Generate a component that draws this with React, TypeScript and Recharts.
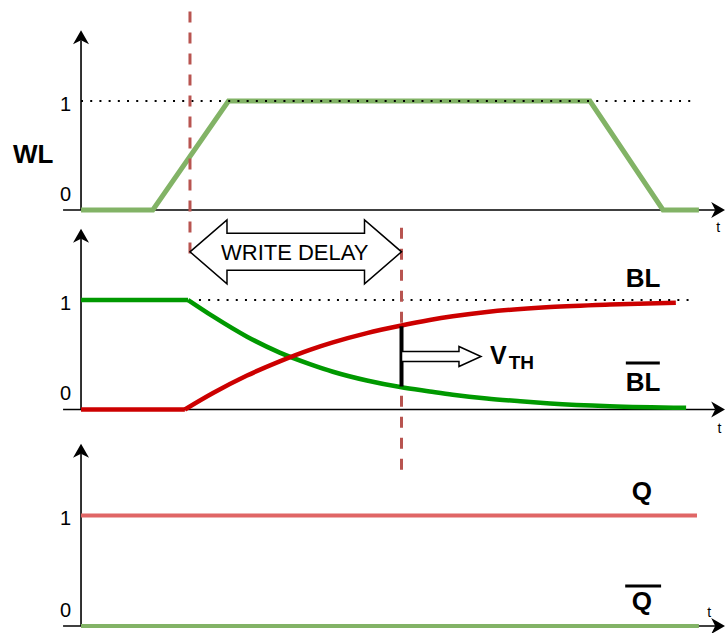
import { ComposedChart, Line, XAxis, YAxis, ReferenceLine, ReferenceDot } from "recharts";

const WIDTH = 725;
const HEIGHT = 633;
const FONT = "'Liberation Sans', Arial, Helvetica, sans-serif";

// time runs 0..100 from the vertical axes to the arrow tips
const T_DOMAIN: [number, number] = [-12.64, 100.47];

// WL
const WL_T = [0, 11.2, 23.0, 79.4, 90.8, 96.4];
const WL_LEVEL = [0, 0, 1, 1, 0, 0];

// BL (charging); index 1 is where the curve leaves the flat part
const BL_T = [0, 16.2, 20.6, 25.9, 31.0, 35.7, 39.3, 44.6, 49.8, 54.4, 58.0, 63.3, 73.2, 82.5, 92.8];
const BL_LEVEL = [0, 0, 0.15, 0.31, 0.44, 0.545, 0.613, 0.698, 0.765, 0.817, 0.851, 0.891, 0.936, 0.959, 0.975];

// BL bar (discharging)
const BLB_T = [0, 16.7, 20.6, 25.9, 31.0, 35.7, 39.3, 44.6, 49.8, 54.4, 58.0, 63.3, 68.5, 73.2, 82.5, 94.4];
const BLB_LEVEL = [1, 1, 0.85, 0.665, 0.52, 0.415, 0.345, 0.265, 0.205, 0.165, 0.135, 0.1, 0.075, 0.055, 0.03, 0.015];

// Q / Q bar
const Q_T = [0, 96.1];
const Q_LEVEL = [1, 1];
const QB_T = [0, 96.4];
const QB_LEVEL = [0, 0];

// marker times
const DELAY_START_T = 17.0;
const DELAY_END_T = 50.0;
const VTH_TIP_T = 62.4;

// three stacked lanes in one chart (y is in chart units, 0 at bottom)
const LANE_ZERO = [423, 223.5, 7];
const LANE_SPAN = [109, 109.5, 110.5];
const lane = (k: number, level: number) => LANE_ZERO[k] + level * LANE_SPAN[k];

const rows = (ts: number[], levels: number[], k: number) =>
  ts.map((t, i) => ({ t, y: lane(k, levels[i]) }));

const pts = (p: number[][]) => p.map((q) => q.join(",")).join(" ");

function AxisArrow(props: any) {
  const { x1, y1, x2, y2 } = props;
  const dx = x2 - x1;
  const dy = y2 - y1;
  const len = Math.hypot(dx, dy) || 1;
  const ux = dx / len;
  const uy = dy / len;
  const px = -uy;
  const py = ux;
  const L = 14;
  const W = 8;
  const N = 4;
  const bx = x2 - ux * L;
  const by = y2 - uy * L;
  const nx = x2 - ux * (L - N);
  const ny = y2 - uy * (L - N);
  return (
    <g>
      <line x1={x1} y1={y1} x2={nx} y2={ny} stroke="#000" strokeWidth={1.6} />
      <polygon
        points={pts([
          [x2, y2],
          [bx + px * W, by + py * W],
          [nx, ny],
          [bx - px * W, by - py * W],
        ])}
        fill="#000"
      />
    </g>
  );
}

function DelayArrow(props: any) {
  const { x1, y1, x2 } = props;
  const H = 37;
  const HH = 32;
  const SH = 18.5;
  const y = y1;
  return (
    <g>
      <polygon
        points={pts([
          [x1, y],
          [x1 + H, y - HH],
          [x1 + H, y - SH],
          [x2 - H, y - SH],
          [x2 - H, y - HH],
          [x2, y],
          [x2 - H, y + HH],
          [x2 - H, y + SH],
          [x1 + H, y + SH],
          [x1 + H, y + HH],
        ])}
        fill="#fff"
        stroke="#000"
        strokeWidth={1.5}
      />
      <text x={(x1 + x2) / 2 - 1} y={y + 8} textAnchor="middle" fontFamily={FONT} fontSize={22} fill="#000">
        WRITE DELAY
      </text>
    </g>
  );
}

function VthArrow(props: any) {
  const { x1, y1, x2 } = props;
  const head = 22;
  const hh = 10;
  const sh = 5;
  const y = y1;
  return (
    <g>
      <polygon
        points={pts([
          [x1, y - sh],
          [x2 - head, y - sh],
          [x2 - head, y - hh],
          [x2, y],
          [x2 - head, y + hh],
          [x2 - head, y + sh],
          [x1, y + sh],
        ])}
        fill="#fff"
        stroke="#000"
        strokeWidth={1.5}
      />
      <text x={x2 + 9} y={y + 7.5} fontFamily={FONT} fontWeight="bold" fontSize={25} fill="#000">
        V
        <tspan fontSize={19} dy={5} dx={2}>
          TH
        </tspan>
      </text>
    </g>
  );
}

const textShape =
  (text: string, size: number, bold: boolean, anchor: string) =>
  (p: any) => (
    <text
      x={p.cx}
      y={p.cy}
      textAnchor={anchor}
      fontFamily={FONT}
      fontSize={size}
      fontWeight={bold ? "bold" : "normal"}
      fill="#000"
    >
      {text}
    </text>
  );

// [text, t, lane, level, size, bold, anchor]
const LABELS: [string, number, number, number, number, boolean, string][] = [
  ["WL", -10.6, 0, 0.43, 26, true, "start"],
  ["1", -1.56, 0, 0.91, 20, false, "end"],
  ["0", -1.56, 0, 0.085, 20, false, "end"],
  ["1", -1.56, 1, 0.91, 20, false, "end"],
  ["0", -1.56, 1, 0.085, 20, false, "end"],
  ["1", -1.56, 2, 0.91, 20, false, "end"],
  ["0", -1.56, 2, 0.085, 20, false, "end"],
  ["t", 99.4, 0, -0.2, 14, false, "middle"],
  ["t", 99.6, 1, -0.215, 14, false, "middle"],
  ["t", 98.0, 2, 0.081, 14, false, "middle"],
  ["BL", 87.7, 1, 1.119, 26, true, "middle"],
  ["BL", 87.7, 1, 0.169, 26, true, "middle"],
  ["Q", 87.5, 2, 1.14, 26, true, "middle"],
  ["Q", 87.5, 2, 0.145, 26, true, "middle"],
];

// [tStart, tEnd, lane, level]
const OVERBARS: [number, number, number, number][] = [
  [85.0, 90.3, 1, 0.425],
  [84.9, 90.5, 2, 0.362],
];

const lineProps = { dot: false, activeDot: false, isAnimationActive: false, zIndex: 400 } as const;

export default function App() {
  return (
    <div style={{ position: "absolute", left: 0, top: 0, width: WIDTH, height: HEIGHT, background: "#fff" }}>
      <ComposedChart width={WIDTH} height={HEIGHT} margin={{ top: 0, right: 0, bottom: 0, left: 0 }}>
        <XAxis type="number" dataKey="t" domain={T_DOMAIN} allowDataOverflow hide />
        <YAxis type="number" dataKey="y" domain={[0, HEIGHT]} allowDataOverflow hide />

        {[0, 1, 2].map((k) => (
          <ReferenceLine
            key={`xa${k}`}
            segment={[
              { x: -2.8, y: lane(k, 0) },
              { x: 100.5, y: lane(k, 0) },
            ]}
            shape={AxisArrow}
            ifOverflow="visible"
            zIndex={100}
          />
        ))}
        {[0, 1, 2].map((k) => (
          <ReferenceLine
            key={`ya${k}`}
            segment={[
              { x: 0, y: lane(k, 0) },
              { x: 0, y: lane(k, 1.65) },
            ]}
            shape={AxisArrow}
            ifOverflow="visible"
            zIndex={100}
          />
        ))}

        <Line data={rows(WL_T, WL_LEVEL, 0)} dataKey="y" stroke="#82b366" strokeWidth={5} type="linear" {...lineProps} />
        {/* flat part straight, curved part smooth */}
        <Line data={rows(BLB_T.slice(0, 2), BLB_LEVEL.slice(0, 2), 1)} dataKey="y" stroke="#009900" strokeWidth={4.5} type="linear" {...lineProps} />
        <Line data={rows(BLB_T.slice(1), BLB_LEVEL.slice(1), 1)} dataKey="y" stroke="#009900" strokeWidth={4.5} type="monotone" {...lineProps} />
        <Line data={rows(BL_T.slice(0, 2), BL_LEVEL.slice(0, 2), 1)} dataKey="y" stroke="#cc0000" strokeWidth={4.5} type="linear" {...lineProps} />
        <Line data={rows(BL_T.slice(1), BL_LEVEL.slice(1), 1)} dataKey="y" stroke="#cc0000" strokeWidth={4.5} type="monotone" {...lineProps} />
        <Line data={rows(Q_T, Q_LEVEL, 2)} dataKey="y" stroke="#e06666" strokeWidth={4} type="linear" {...lineProps} />
        <Line data={rows(QB_T, QB_LEVEL, 2)} dataKey="y" stroke="#82b366" strokeWidth={4} type="linear" {...lineProps} />

        <ReferenceLine
          segment={[
            { x: 0, y: lane(0, 1) },
            { x: 95.3, y: lane(0, 1) },
          ]}
          stroke="#000"
          strokeWidth={2}
          strokeDasharray="2 7.2"
          ifOverflow="visible"
          zIndex={500}
        />
        <ReferenceLine
          segment={[
            { x: 18.4, y: lane(1, 1) },
            { x: 95.3, y: lane(1, 1) },
          ]}
          stroke="#000"
          strokeWidth={2}
          strokeDasharray="2 7.2"
          ifOverflow="visible"
          zIndex={500}
        />

        <ReferenceLine
          segment={[
            { x: DELAY_START_T, y: lane(0, 1.82) },
            { x: DELAY_START_T, y: lane(1, 1.38) },
          ]}
          stroke="#b85450"
          strokeWidth={3}
          strokeDasharray="11 10"
          ifOverflow="visible"
          zIndex={600}
        />
        <ReferenceLine
          segment={[
            { x: DELAY_END_T, y: lane(1, 1.66) },
            { x: DELAY_END_T, y: lane(2, 1.34) },
          ]}
          stroke="#b85450"
          strokeWidth={3}
          strokeDasharray="11 10"
          ifOverflow="visible"
          zIndex={600}
        />

        <ReferenceLine
          segment={[
            { x: DELAY_START_T, y: lane(1, 1.44) },
            { x: DELAY_END_T, y: lane(1, 1.44) },
          ]}
          shape={DelayArrow}
          ifOverflow="visible"
          zIndex={700}
        />
        <ReferenceLine
          segment={[
            { x: DELAY_END_T, y: lane(1, 0.21) },
            { x: DELAY_END_T, y: lane(1, 0.76) },
          ]}
          stroke="#000"
          strokeWidth={4}
          ifOverflow="visible"
          zIndex={700}
        />
        <ReferenceLine
          segment={[
            { x: DELAY_END_T, y: lane(1, 0.484) },
            { x: VTH_TIP_T, y: lane(1, 0.484) },
          ]}
          shape={VthArrow}
          ifOverflow="visible"
          zIndex={700}
        />

        {OVERBARS.map(([a, b, k, lvl], i) => (
          <ReferenceLine
            key={`ob${i}`}
            segment={[
              { x: a, y: lane(k, lvl) },
              { x: b, y: lane(k, lvl) },
            ]}
            stroke="#000"
            strokeWidth={3}
            ifOverflow="visible"
            zIndex={700}
          />
        ))}

        {LABELS.map(([text, t, k, lvl, size, bold, anchor], i) => (
          <ReferenceDot
            key={`lb${i}`}
            x={t}
            y={lane(k, lvl)}
            r={0}
            ifOverflow="visible"
            shape={textShape(text, size, bold, anchor)}
            zIndex={700}
          />
        ))}
      </ComposedChart>
    </div>
  );
}
